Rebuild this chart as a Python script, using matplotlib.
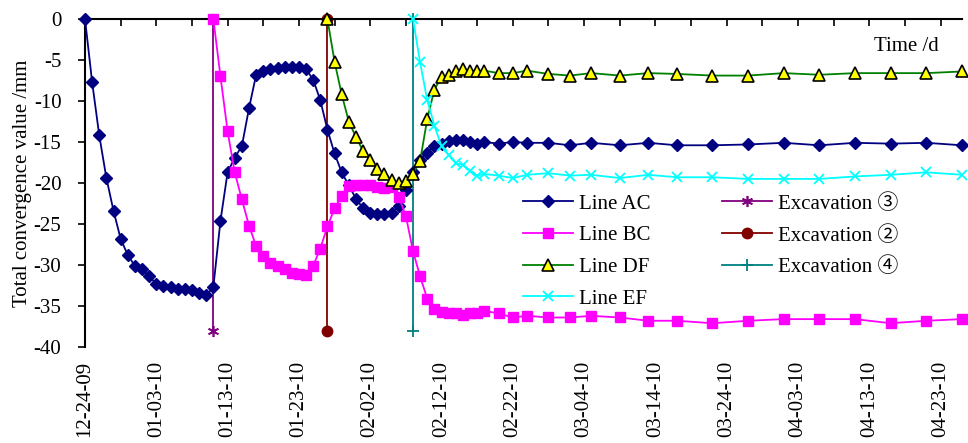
import numpy as np
import matplotlib
matplotlib.use('Agg')
import matplotlib.pyplot as plt

plt.rcParams['font.family'] = ['Liberation Serif', 'Noto Sans CJK SC', 'DejaVu Sans']

#Measurement days (counted from 12-24-09) and convergence values /mm
days_ac = [0, 1, 2, 3, 4, 5, 6, 7, 8, 9, 10, 11, 12, 13, 14, 15, 16, 17, 18, 19,
           20, 21, 22, 23, 24, 25, 26, 27, 28, 29, 30, 31, 32, 33, 34, 35, 36, 37, 38, 39,
           40, 41, 42, 43, 44, 45, 46, 47, 48, 49, 50, 51, 52, 53, 54, 55, 56,
           58, 60, 62, 65, 68, 71, 75, 79, 83, 88, 93, 98, 103, 108, 113, 118, 123]
line_ac = [0, -7.7, -14.2, -19.4, -23.4, -26.8, -28.8, -30.1, -30.5, -31.4,
           -32.3, -32.5, -32.7, -32.9, -32.9, -33.1, -33.4, -33.7, -32.7, -24.6,
           -18.7, -16.9, -15.5, -10.9, -6.8, -6.3, -6.1, -6.0, -5.9, -5.9,
           -5.9, -6.1, -7.4, -9.9, -13.5, -16.4, -18.7, -20.3, -21.9, -23.1,
           -23.7, -23.8, -23.8, -23.7, -22.8, -20.8, -18.6, -17.2, -16.3, -15.5,
           -15.2, -14.9, -14.7, -14.7, -15.0, -15.2, -15.0,
           -15.2, -15.0, -15.1, -15.1, -15.4, -15.1, -15.4, -15.1, -15.4, -15.4,
           -15.3, -15.1, -15.4, -15.1, -15.2, -15.1, -15.4]

days_bc = [18, 19, 20, 21, 22, 23, 24, 25, 26, 27, 28, 29, 30, 31, 32, 33, 34, 35, 36, 37,
           38, 39, 40, 41, 42, 43, 44, 45, 46, 47, 48, 49, 50, 51, 52, 53, 54, 55, 56,
           58, 60, 62, 65, 68, 71, 75, 79, 83, 88, 93, 98, 103, 108, 113, 118, 123]
line_bc = [0, -7.0, -13.7, -18.7, -22.0, -25.2, -27.7, -28.9, -29.7, -30.1,
           -30.5, -31.0, -31.1, -31.2, -30.1, -28.0, -25.3, -23.1, -21.6, -20.4,
           -20.3, -20.3, -20.3, -20.5, -20.6, -20.5, -21.7, -24.0, -28.3, -31.4,
           -34.1, -35.4, -35.7, -35.9, -35.9, -36.1, -35.9, -35.8, -35.6,
           -35.9, -36.4, -36.2, -36.4, -36.4, -36.2, -36.4, -36.8, -36.8, -37.1,
           -36.8, -36.6, -36.6, -36.6, -37.1, -36.8, -36.6]

days_df = [34, 35, 36, 37, 38, 39, 40, 41, 42, 43, 44, 45, 46, 47, 48, 49, 50, 51, 52,
           53, 54, 55, 56,
           58, 60, 62, 65, 68, 71, 75, 79, 83, 88, 93, 98, 103, 108, 113, 118, 123]
line_df = [0, -5.2, -9.2, -12.5, -14.4, -16.1, -17.2, -18.3, -18.9, -19.6,
           -20.0, -19.8, -18.9, -17.3, -12.2, -8.6, -7.1, -6.8, -6.3, -6.1,
           -6.3, -6.3, -6.3,
           -6.6, -6.6, -6.3, -6.7, -6.9, -6.6, -6.9, -6.6, -6.7, -6.9,
           -6.9, -6.6, -6.8, -6.6, -6.6, -6.6, -6.4]

days_ef = [46, 47, 48, 49, 50, 51, 52, 53, 54, 55, 56,
           58, 60, 62, 65, 68, 71, 75, 79, 83, 88, 93, 98, 103, 108, 113, 118, 123]
line_ef = [0, -5.3, -9.9, -13.0, -15.5, -16.6, -17.6, -17.8, -18.5, -19.1, -18.9,
           -19.1, -19.4, -19.0, -18.8, -19.1, -19.0, -19.4, -19.0, -19.3, -19.3,
           -19.5, -19.5, -19.5, -19.2, -19.0, -18.7, -19.0]

#Excavation steps (vertical marker lines)
exc3_days = [18, 18]
exc2_days = [34, 34]
exc4_days = [46, 46]
exc_values = [0, -38]

tick_days = [0, 5, 10, 15, 20, 25, 30, 35, 40, 45, 50, 55, 60, 65, 70, 75, 80, 85,
             90, 95, 100, 105, 110, 115, 120]
date_labels = ['12-24-09', '01-03-10', '01-13-10', '01-23-10', '02-02-10', '02-12-10',
               '02-22-10', '03-04-10', '03-14-10', '03-24-10', '04-03-10', '04-13-10',
               '04-23-10']
y_ticks = [0, -5, -10, -15, -20, -25, -30, -35, -40]

fig = plt.figure(figsize=(9.68, 4.43), dpi=100)
ax = fig.add_axes([85/968, 1-347/443, 877/968, 328/443])

lw = 1.3
e3, = ax.plot(exc3_days, exc_values, color='#800080', lw=lw, marker=(6, 2, 0), ms=8, mew=1.2,
              clip_on=False, zorder=2)
e2, = ax.plot(exc2_days, exc_values, color='#800000', lw=lw, marker='o', ms=7.5,
              clip_on=False, zorder=2)
e4, = ax.plot(exc4_days, exc_values, color='#008080', lw=lw, marker='+', ms=8, mew=1.3,
              clip_on=False, zorder=2)

ac, = ax.plot(days_ac, line_ac, color='#000080', lw=lw, marker='D', ms=6.3,
              clip_on=False, zorder=3)
bc, = ax.plot(days_bc, line_bc, color='#FF00FF', lw=lw, marker='s', ms=7.5,
              clip_on=False, zorder=3)
dfl, = ax.plot(days_df, line_df, color='#008000', lw=lw, marker='^', ms=9,
               mfc='#FFFF00', mec='black', mew=1.2, clip_on=False, zorder=4)
ef, = ax.plot(days_ef, line_ef, color='#00FFFF', lw=lw, marker='x', ms=7, mew=1.3,
              clip_on=False, zorder=4)

#axes: x axis sits at y=0 (top), labels at the bottom
ax.set_xlim(0, 123)
ax.set_ylim(-40, 0)
ax.set_xticks(tick_days)
xlabels = []
for i in range(len(tick_days)):
    xlabels.append(date_labels[i // 2] if i % 2 == 0 else '')
ax.set_xticklabels(xlabels, rotation=90, fontsize=15)
ax.tick_params(axis='x', top=True, bottom=False, labeltop=False, labelbottom=True,
               direction='in', length=5, width=1.2, pad=10)
ax.set_yticks(y_ticks)
ax.set_yticklabels([str(v) for v in y_ticks], fontsize=15)
ax.tick_params(axis='y', direction='out', length=5, width=1.2, pad=12)

for s in ['right', 'bottom']:
    ax.spines[s].set_visible(False)
ax.spines['top'].set_linewidth(1.5)
ax.spines['left'].set_linewidth(1.5)

ax.set_ylabel('Total convergence value /mm', fontsize=15, labelpad=1)
ax.text(0.937, 0.915, 'Time /d', transform=ax.transAxes, fontsize=15,
        ha='center', va='center')

leg = ax.legend([ac, bc, dfl, ef, e3, e2, e4],
                ['Line AC', 'Line BC', 'Line DF', 'Line EF',
                 'Excavation ③', 'Excavation ②', 'Excavation ④'],
                ncol=2, frameon=False, fontsize=15, loc='upper left',
                bbox_to_anchor=(523/968, 1-194/443), bbox_transform=fig.transFigure,
                borderpad=0, borderaxespad=0, handlelength=2.4, handletextpad=0.3,
                labelspacing=0.58, columnspacing=3.4)

fig.savefig('out.png', dpi=100)
